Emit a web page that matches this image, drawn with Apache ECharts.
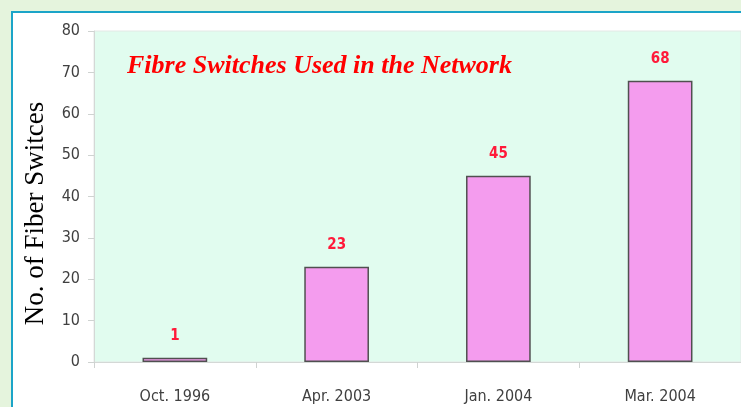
<!DOCTYPE html>
<html><head><meta charset="utf-8">
<script src="https://cdn.jsdelivr.net/npm/echarts@6/dist/echarts.min.js"></script>
<style>
html,body{margin:0;padding:0;width:741px;height:407px;overflow:hidden;background:#e5f4dd;}
#frame{position:absolute;left:11px;top:11px;width:730px;height:396px;background:#ffffff;border-left:2px solid #1ba4c8;border-top:2px solid #1ba4c8;box-sizing:border-box;}
#chart{position:absolute;left:0;top:0;width:741px;height:407px;}
</style></head>
<body>
<div id="frame"></div>
<div id="chart"></div>
<script>
const categories = ["Oct. 1996", "Apr. 2003", "Jan. 2004", "Mar. 2004"];
const switchCounts = [1, 23, 45, 68];
const yTicks = [0, 10, 20, 30, 40, 50, 60, 70, 80];

const narrow = "'Liberation Sans Narrow','Arial Narrow','DejaVu Sans Condensed',sans-serif";
const chart = echarts.init(document.getElementById('chart'), null, {renderer: 'canvas'});
chart.setOption({
  backgroundColor: 'transparent',
  animation: false,
  title: {
    text: 'Fibre Switches Used in the Network',
    left: 122, top: 48,
    textStyle: {color: '#ff0000', fontFamily: "'Liberation Serif','Times New Roman',serif", fontStyle: 'italic', fontWeight: 'bold', fontSize: 26}
  },
  grid: {left: 94, right: 0, top: 31, bottom: 45, show: true, backgroundColor: '#e1fcef', borderColor: '#e4e8e6', borderWidth: 1},
  xAxis: {
    type: 'category', data: categories, boundaryGap: true,
    axisLine: {lineStyle: {color: '#d4d8d6'}},
    axisTick: {show: true, length: 6, lineStyle: {color: '#cfd3d1'}},
    axisLabel: {color: '#404040', fontFamily: narrow, fontSize: 16, margin: 27}
  },
  yAxis: {
    type: 'value', min: yTicks[0], max: yTicks[yTicks.length - 1], interval: 10,
    name: 'No. of Fiber Switces', nameLocation: 'middle', nameGap: 45, nameRotate: 90,
    nameTextStyle: {color: '#000000', fontFamily: "'Liberation Serif','Times New Roman',serif", fontSize: 27, padding: [0, 34, 0, 0]},
    axisLine: {show: true, lineStyle: {color: '#d4d8d6'}},
    axisTick: {show: true, length: 6, lineStyle: {color: '#cfd3d1'}},
    splitLine: {show: false},
    axisLabel: {color: '#404040', fontFamily: narrow, fontSize: 16, margin: 14}
  },
  series: [{
    type: 'bar', data: switchCounts, barWidth: '40%',
    itemStyle: {color: '#f49cee', borderColor: '#505050', borderWidth: 1.5},
    label: {show: true, position: 'top', distance: 14, color: '#ff1a3a', fontFamily: narrow, fontWeight: 'bold', fontSize: 15}
  }]
});
</script>
</body></html>
